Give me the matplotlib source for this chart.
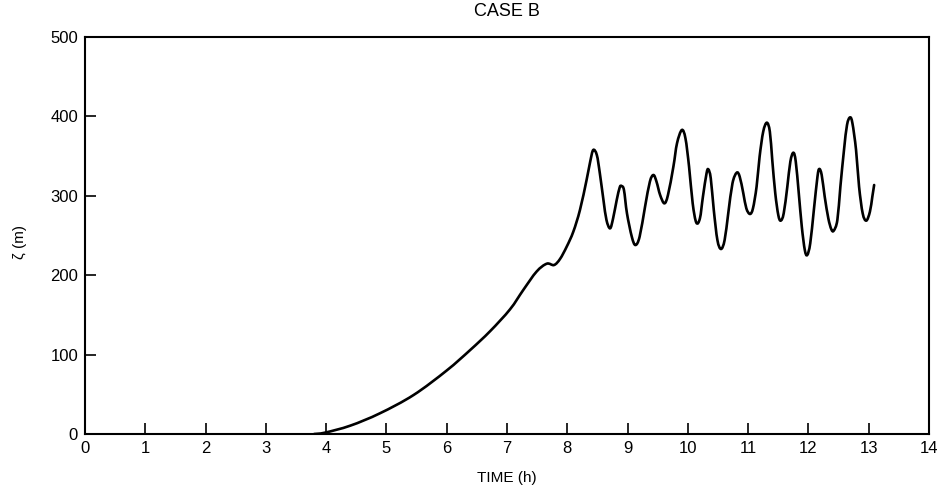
import matplotlib
matplotlib.use("Agg")
import matplotlib.pyplot as plt
from matplotlib.path import Path
from matplotlib.patches import PathPatch

# ---- data ----
time_h = [3.80, 3.98, 4.40, 4.89, 5.45, 6.00, 6.39, 6.72, 7.05, 7.27, 7.49, 7.66, 7.78, 7.88,
          7.99, 8.10, 8.21, 8.32, 8.38, 8.43, 8.49, 8.54, 8.60, 8.65, 8.71, 8.76, 8.82, 8.87, 8.90,
          8.94, 8.99, 9.07, 9.13, 9.20, 9.29, 9.37, 9.43, 9.48, 9.54, 9.61, 9.67, 9.76, 9.82, 9.90,
          9.96, 10.02, 10.08, 10.14, 10.20, 10.25, 10.31, 10.34, 10.38, 10.43, 10.49, 10.55, 10.61,
          10.67, 10.74, 10.81, 10.86, 10.92, 10.97, 11.03, 11.08, 11.14, 11.19, 11.25, 11.31, 11.36,
          11.40, 11.45, 11.50, 11.54, 11.59, 11.65, 11.70, 11.75, 11.79, 11.84, 11.89, 11.94, 11.98,
          12.03, 12.09, 12.15, 12.18, 12.22, 12.27, 12.33, 12.38, 12.42, 12.48, 12.53, 12.59, 12.64,
          12.69, 12.73, 12.79, 12.84, 12.90, 12.96, 13.02, 13.06, 13.09]
zeta_m = [0.0, 1.7, 10.5, 26.0, 49.1, 80.0, 105.8, 129.5, 157.0, 181.4, 204.5, 214.5, 212.8, 220.5,
          235.9, 254.8, 282.1, 319.9, 343.0, 357.7, 351.4, 328.3, 294.7, 269.5, 259.0, 271.6, 294.7,
          310.7, 312.3, 307.3, 277.9, 248.5, 238.0, 248.5, 286.3, 317.8, 326.2, 317.8, 301.0, 290.5,
          301.0, 336.7, 366.1, 382.9, 372.4, 336.7, 290.5, 266.2, 271.6, 298.9, 328.3, 333.3, 322.0,
          282.1, 244.3, 233.0, 244.3, 277.9, 315.7, 329.1, 324.1, 303.1, 284.2, 277.1, 284.2, 311.5,
          349.3, 380.8, 392.1, 380.8, 345.1, 303.1, 275.8, 268.7, 277.9, 311.5, 343.0, 354.3, 343.0,
          303.1, 261.1, 231.7, 225.4, 240.1, 282.1, 324.1, 333.8, 326.2, 298.9, 271.6, 257.8, 256.1,
          269.5, 311.5, 357.7, 389.2, 398.8, 391.3, 357.7, 311.5, 277.9, 268.7, 280.0, 298.9, 313.6]
x_ticks = list(range(0, 15))
y_ticks = [0, 100, 200, 300, 400, 500]

title = "CASE B"
xlabel = "TIME (h)"
ylabel = "ζ (m)"

plt.rcParams['font.family'] = ["Liberation Sans", "DejaVu Sans"]

fig = plt.figure(figsize=(9.47, 4.99), dpi=100)
ax = fig.add_axes([85/947, 1-434/499, (929-85)/947, (434-37)/499])

# smooth rendering of the read points: Catmull-Rom -> cubic Bezier path segments
n = len(time_h)
verts = [(time_h[0], zeta_m[0])]
codes = [Path.MOVETO]
for i in range(n - 1):
    p0 = (time_h[max(i - 1, 0)], zeta_m[max(i - 1, 0)])
    p1 = (time_h[i], zeta_m[i])
    p2 = (time_h[i + 1], zeta_m[i + 1])
    p3 = (time_h[min(i + 2, n - 1)], zeta_m[min(i + 2, n - 1)])
    c1 = (p1[0] + (p2[0] - p0[0]) / 6, p1[1] + (p2[1] - p0[1]) / 6)
    c2 = (p2[0] - (p3[0] - p1[0]) / 6, p2[1] - (p3[1] - p1[1]) / 6)
    verts += [c1, c2, p2]
    codes += [Path.CURVE4] * 3
ax.add_patch(PathPatch(Path(verts, codes), facecolor="none", edgecolor="black",
                       lw=1.9, capstyle="round", joinstyle="round", transform=ax.transData))

ax.set_xlim(0, 14)
ax.set_ylim(0, 500)
ax.set_xticks(x_ticks)
ax.set_yticks(y_ticks)
ax.tick_params(direction="in", length=8, width=1.2, labelsize=12, colors="black", pad=5)
for s in ax.spines.values():
    s.set_linewidth(1.5)
    s.set_color("black")

fig.text((85+929)/2/947, 1-12/499, title, ha="center", va="center", fontsize=13)
fig.text((85+929)/2/947, 1-478/499, xlabel, ha="center", va="center", fontsize=11)
fig.text(20/947, 1-242/499, ylabel, ha="center", va="center", rotation=90, fontsize=11)

fig.savefig("out.png", dpi=100)
